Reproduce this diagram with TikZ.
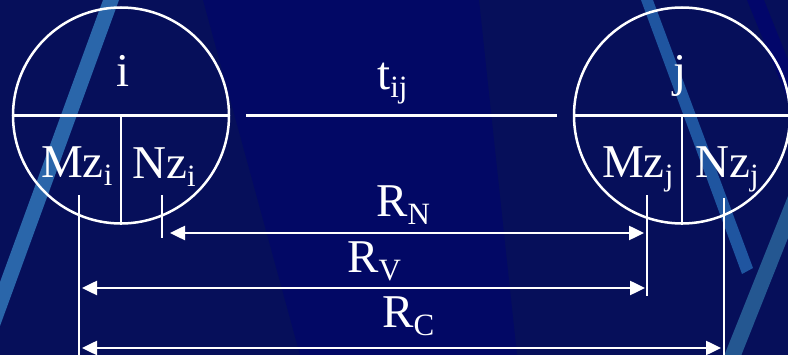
\documentclass[tikz,border=0pt]{standalone}
\usepackage{fontspec}
\setmainfont{Liberation Serif}
\usetikzlibrary{arrows.meta}
\definecolor{bgbase}{HTML}{060F5A}
\definecolor{bgmid}{HTML}{020865}
\definecolor{stripe}{HTML}{2A66AA}
\definecolor{stripeb}{HTML}{1F55A0}
\definecolor{bandd}{HTML}{02066A}
\newcommand\lsub[1]{\raisebox{-8pt}{\fontsize{31}{31}\selectfont #1}}
\begin{document}
\begin{tikzpicture}[x=1pt,y=-1pt,
  wl/.style={draw=white,line width=2.5pt},
  ring/.style={circle,draw=white,line width=2.5pt,minimum size=216pt,inner sep=0pt},
  lbl/.style={text=white,inner sep=0pt,font=\fontsize{47}{47}\selectfont},
  dim/.style={draw=white,line width=2.5pt,{Triangle[length=15pt,width=14pt]}-{Triangle[length=15pt,width=14pt]}}]
\useasboundingbox (0,0) rectangle (788,355);
% background
\fill[bgbase] (0,0) rectangle (788,355);
\fill[bgmid] (203,0) -- (479,0) -- (517,355) -- (300,355) -- cycle;
\fill[stripe] (103,0) -- (119,0) -- (0,326) -- (0,282) -- cycle;
\fill[bandd] (747,0) -- (764,0) -- (788,60) -- (788,100) -- cycle;
\fill[stripeb] (641,0) -- (653,0) -- (753,268) -- (742,274) -- cycle;
\fill[stripe!85!black] (724,356) -- (741,356) -- (788,238) -- (788,196) -- cycle;
% circles
\node[ring] (ci) at (121,115.5) {};
\node[ring] (cj) at (682,115.5) {};
\draw[wl] (ci.west) -- (ci.east);
\draw[wl] (ci.center) -- (ci.south);
\draw[wl] (cj.west) -- (cj.east);
\draw[wl] (cj.center) -- (cj.south);
\draw[wl,shorten <=16pt,shorten >=16pt] (ci.east) -- (cj.west);
% labels
\node[lbl,anchor=base] (ti) at (123,87) {i};
\node[lbl,anchor=base] (tj) at (680,87) {j};
\node[lbl,anchor=base west] (tij) at (377,90) {t\lsub{ij}};
\node[lbl,anchor=base west] (mzi) at (41,178) {Mz\lsub{i}};
\node[lbl,anchor=base west] (nzi) at (132,179) {Nz\lsub{i}};
\node[lbl,anchor=base west] (mzj) at (602,178) {Mz\lsub{j}};
\node[lbl,anchor=base west] (nzj) at (695,178) {Nz\lsub{j}};
\node[lbl,anchor=base west] (rn) at (376,217) {R\lsub{N}};
\node[lbl,anchor=base west] (rv) at (347,273) {R\lsub{V}};
\node[lbl,anchor=base west] (rc) at (382,328) {R\lsub{C}};
% ticks
\coordinate (miT) at (79,195);  \coordinate (miB) at (79,356);
\coordinate (niT) at (162,195); \coordinate (niB) at (162,238);
\coordinate (mjT) at (647,195); \coordinate (mjB) at (647,296);
\coordinate (njT) at (724,198); \coordinate (njB) at (724,356);
\draw[wl] (miT) -- (miB);
\draw[wl] (niT) -- (niB);
\draw[wl] (mjT) -- (mjB);
\draw[wl] (njT) -- (njB);
% dimension arrows
\coordinate (rnL) at (162,233); \coordinate (rnR) at (647,233);
\coordinate (rvL) at (79,288);  \coordinate (rvR) at (647,288);
\coordinate (rcL) at (79,348);  \coordinate (rcR) at (724,348);
\draw[dim,shorten <=8pt,shorten >=3pt] (rnL) -- (rnR);
\draw[dim,shorten <=3pt,shorten >=2pt] (rvL) -- (rvR);
\draw[dim,shorten <=3pt,shorten >=3pt] (rcL) -- (rcR);
\end{tikzpicture}
\end{document}
